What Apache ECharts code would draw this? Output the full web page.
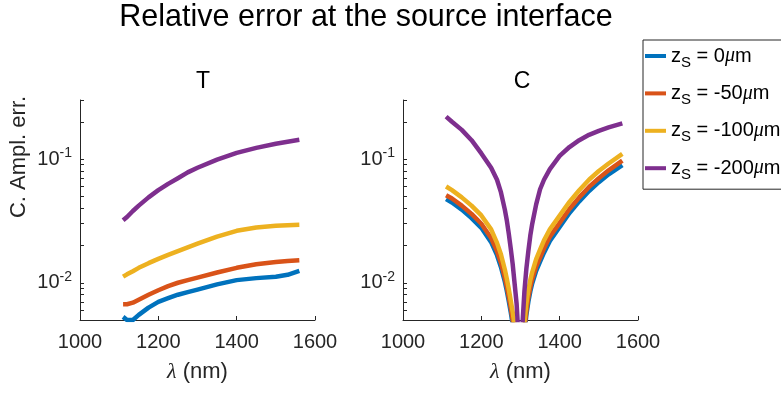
<!DOCTYPE html>
<html>
<head>
<meta charset="utf-8">
<script src="https://cdn.jsdelivr.net/npm/echarts@6/dist/echarts.min.js"></script>
<style>
  html, body { margin: 0; padding: 0; background: #fff; }
  #main { width: 781px; height: 394px; }
</style>
</head>
<body>
<div id="main"></div>
<script>
// source depths, one curve each
const depths = [0, -50, -100, -200];
const colors = ['#0072BD', '#D95319', '#EDB120', '#7E2F8E'];

// T panel
const lamT = [1110, 1120, 1135, 1150, 1175, 1200, 1225, 1250, 1275, 1300, 1350, 1400, 1450, 1500, 1530, 1560];
const tZ0   = [0.0053, 0.0050, 0.0050, 0.0055, 0.0063, 0.0070, 0.0075, 0.0080, 0.0084, 0.0088, 0.0097, 0.0105, 0.0109, 0.0112, 0.0116, 0.0125];
const tZ50  = [0.0067, 0.0067, 0.0069, 0.0073, 0.0080, 0.0087, 0.0094, 0.0100, 0.0105, 0.0110, 0.0121, 0.0132, 0.0141, 0.0147, 0.0150, 0.0152];
const tZ100 = [0.0112, 0.0117, 0.0124, 0.0132, 0.0144, 0.0156, 0.0168, 0.0180, 0.0193, 0.0207, 0.0236, 0.0263, 0.0280, 0.0289, 0.0292, 0.0294];
const tZ200 = [0.032, 0.034, 0.038, 0.042, 0.049, 0.056, 0.063, 0.070, 0.078, 0.085, 0.099, 0.112, 0.123, 0.133, 0.138, 0.143];

// C panel
const lamC = [1110, 1125, 1150, 1175, 1200, 1225, 1240, 1250, 1260, 1265, 1270, 1275, 1280, 1285, 1290, 1295, 1300,
              1305, 1310, 1315, 1320, 1325, 1330, 1340, 1350, 1360, 1375, 1400, 1425, 1450, 1475, 1500, 1525, 1560];
const cZ0   = [0.0474, 0.0445, 0.039, 0.0333, 0.0278, 0.0213, 0.0167, 0.0134, 0.0102, 0.0086, 0.0071, 0.0058, 0.0046, 0.0036, 0.0025, 0.0014, 0.0003,
               0.0018, 0.0039, 0.0055, 0.0070, 0.0085, 0.0099, 0.0125, 0.0148, 0.0175, 0.0218, 0.0282, 0.0366, 0.0455, 0.0552, 0.065, 0.0752, 0.0894];
const cZ50  = [0.051, 0.048, 0.042, 0.036, 0.030, 0.023, 0.018, 0.0145, 0.0110, 0.0093, 0.0077, 0.0063, 0.0050, 0.0039, 0.0027, 0.0015, 0.0003,
               0.0019, 0.0042, 0.0059, 0.0076, 0.0092, 0.0107, 0.0135, 0.0160, 0.0190, 0.0236, 0.0305, 0.0395, 0.049, 0.0595, 0.070, 0.081, 0.097];
const cZ100 = [0.060, 0.056, 0.049, 0.042, 0.035, 0.027, 0.021, 0.017, 0.0128, 0.0108, 0.0089, 0.0072, 0.0058, 0.0045, 0.0031, 0.0017, 0.0003,
               0.0022, 0.0048, 0.0068, 0.0087, 0.0105, 0.0122, 0.0155, 0.0185, 0.0220, 0.027, 0.035, 0.045, 0.056, 0.068, 0.080, 0.092, 0.110];
const cZ200 = [0.220, 0.200, 0.172, 0.142, 0.111, 0.085, 0.068, 0.054, 0.039, 0.032, 0.025, 0.019, 0.0142, 0.0098, 0.0068, 0.0036, 0.0004,
               0.0046, 0.0085, 0.013, 0.018, 0.024, 0.030, 0.043, 0.057, 0.068, 0.083, 0.106, 0.125, 0.142, 0.157, 0.169, 0.180, 0.194];

// axis ticks
const xTicks = [1000, 1200, 1400, 1600];
const yLabels = [0.01, 0.1];
const yTicks = [0.005, 0.006, 0.007, 0.008, 0.009, 0.01, 0.02, 0.03, 0.04, 0.05, 0.06, 0.07, 0.08, 0.09, 0.1, 0.2, 0.3];

const FONT = 'Liberation Sans, Arial, Helvetica, sans-serif';
const AX = '#262626';

function xAxisOf(grid) {
  return {
    type: 'value', gridIndex: grid,
    min: xTicks[0], max: xTicks[xTicks.length - 1], interval: 200,
    name: '{l|λ} (nm)', nameLocation: 'middle', nameGap: 41,
    nameTextStyle: { fontSize: 22, color: AX, fontFamily: FONT,
      rich: { l: { fontSize: 22, fontStyle: 'italic', fontFamily: 'Liberation Serif, serif', color: AX } } },
    axisLine: { show: true, lineStyle: { color: AX, width: 1 } },
    axisTick: { show: true, inside: true, length: 4, lineStyle: { color: AX } },
    axisLabel: { fontSize: 20, color: AX, fontFamily: FONT, margin: 12, formatter: v => String(v) },
    splitLine: { show: false }
  };
}

function yAxisOf(grid, withName) {
  return {
    type: 'log', logBase: 10, gridIndex: grid,
    min: 0.005, max: 0.3,
    name: withName ? 'C. Ampl. err.' : '',
    nameLocation: 'middle', nameGap: 50,
    nameTextStyle: { fontSize: 22, color: AX, fontFamily: FONT, padding: [0, 0, 0, 106] },
    axisLine: { show: true, lineStyle: { color: AX, width: 1 } },
    axisTick: { show: true, inside: true, length: 4, customValues: yTicks, lineStyle: { color: AX } },
    axisLabel: {
      customValues: yLabels, margin: 8, color: AX,
      formatter: function (v) {
        return '{b|10}{s|' + Math.round(Math.log10(v)) + '}';
      },
      rich: {
        b: { fontSize: 20, lineHeight: 26, color: AX, fontFamily: FONT },
        s: { fontSize: 14, lineHeight: 14, verticalAlign: 'top', color: AX, fontFamily: FONT }
      }
    },
    splitLine: { show: false },
    minorSplitLine: { show: false }
  };
}

const names = depths.map(d => 'zS = ' + d + 'μm');
const tSets = [tZ0, tZ50, tZ100, tZ200];
const cSets = [cZ0, cZ50, cZ100, cZ200];

const series = [];
tSets.forEach((arr, k) => {
  series.push({
    name: names[k], type: 'line', xAxisIndex: 0, yAxisIndex: 0,
    data: lamT.map((l, i) => [l, arr[i]]),
    showSymbol: false, smooth: false, clip: true,
    lineStyle: { width: 4.5, color: colors[k], join: 'round', cap: 'butt' }, itemStyle: { color: colors[k] }
  });
});
cSets.forEach((arr, k) => {
  series.push({
    name: names[k], type: 'line', xAxisIndex: 1, yAxisIndex: 1,
    data: lamC.map((l, i) => [l, arr[i]]),
    showSymbol: false, smooth: false, clip: true,
    lineStyle: { width: 4.5, color: colors[k], join: 'round', cap: 'butt' }, itemStyle: { color: colors[k] }
  });
});

const chart = echarts.init(document.getElementById('main'));
chart.setOption({
  animation: false,
  backgroundColor: '#fff',
  title: [
    { text: 'Relative error at the source interface', left: 366, top: 2, textAlign: 'center', padding: 0,
      textStyle: { fontSize: 30.5, fontWeight: 'normal', color: '#000', fontFamily: FONT } },
    { text: 'T', left: 203, top: 70, textAlign: 'center', padding: 0,
      textStyle: { fontSize: 23, fontWeight: 'normal', color: '#000', fontFamily: FONT } },
    { text: 'C', left: 522, top: 70, textAlign: 'center', padding: 0,
      textStyle: { fontSize: 23, fontWeight: 'normal', color: '#000', fontFamily: FONT } }
  ],
  legend: {
    data: names, orient: 'vertical', left: 643, top: 40,
    padding: [6, 40, 7, 2], itemGap: 13.4, itemWidth: 21, itemHeight: 4, icon: 'rect',
    borderColor: AX, borderWidth: 1, backgroundColor: '#fff',
    formatter: function (name) {
      const d = name.split('= ')[1].replace('μm', '');
      return '{z|z}{s|S}{t| = ' + d + '}{mu|μ}{t|m}';
    },
    textStyle: {
      rich: {
        z: { fontSize: 20, lineHeight: 28, color: '#000', fontFamily: FONT },
        s: { fontSize: 15, lineHeight: 14, verticalAlign: 'bottom', color: '#000', fontFamily: FONT },
        t: { fontSize: 20, lineHeight: 28, color: '#000', fontFamily: FONT },
        mu: { fontSize: 20, lineHeight: 28, fontStyle: 'italic', color: '#000', fontFamily: 'Liberation Serif, serif' }
      }
    }
  },
  grid: [
    { left: 80, top: 100, width: 235, height: 220 },
    { left: 403, top: 100, width: 235, height: 220 }
  ],
  xAxis: [xAxisOf(0), xAxisOf(1)],
  yAxis: [yAxisOf(0, true), yAxisOf(1, false)],
  series: series
});
</script>
</body>
</html>
